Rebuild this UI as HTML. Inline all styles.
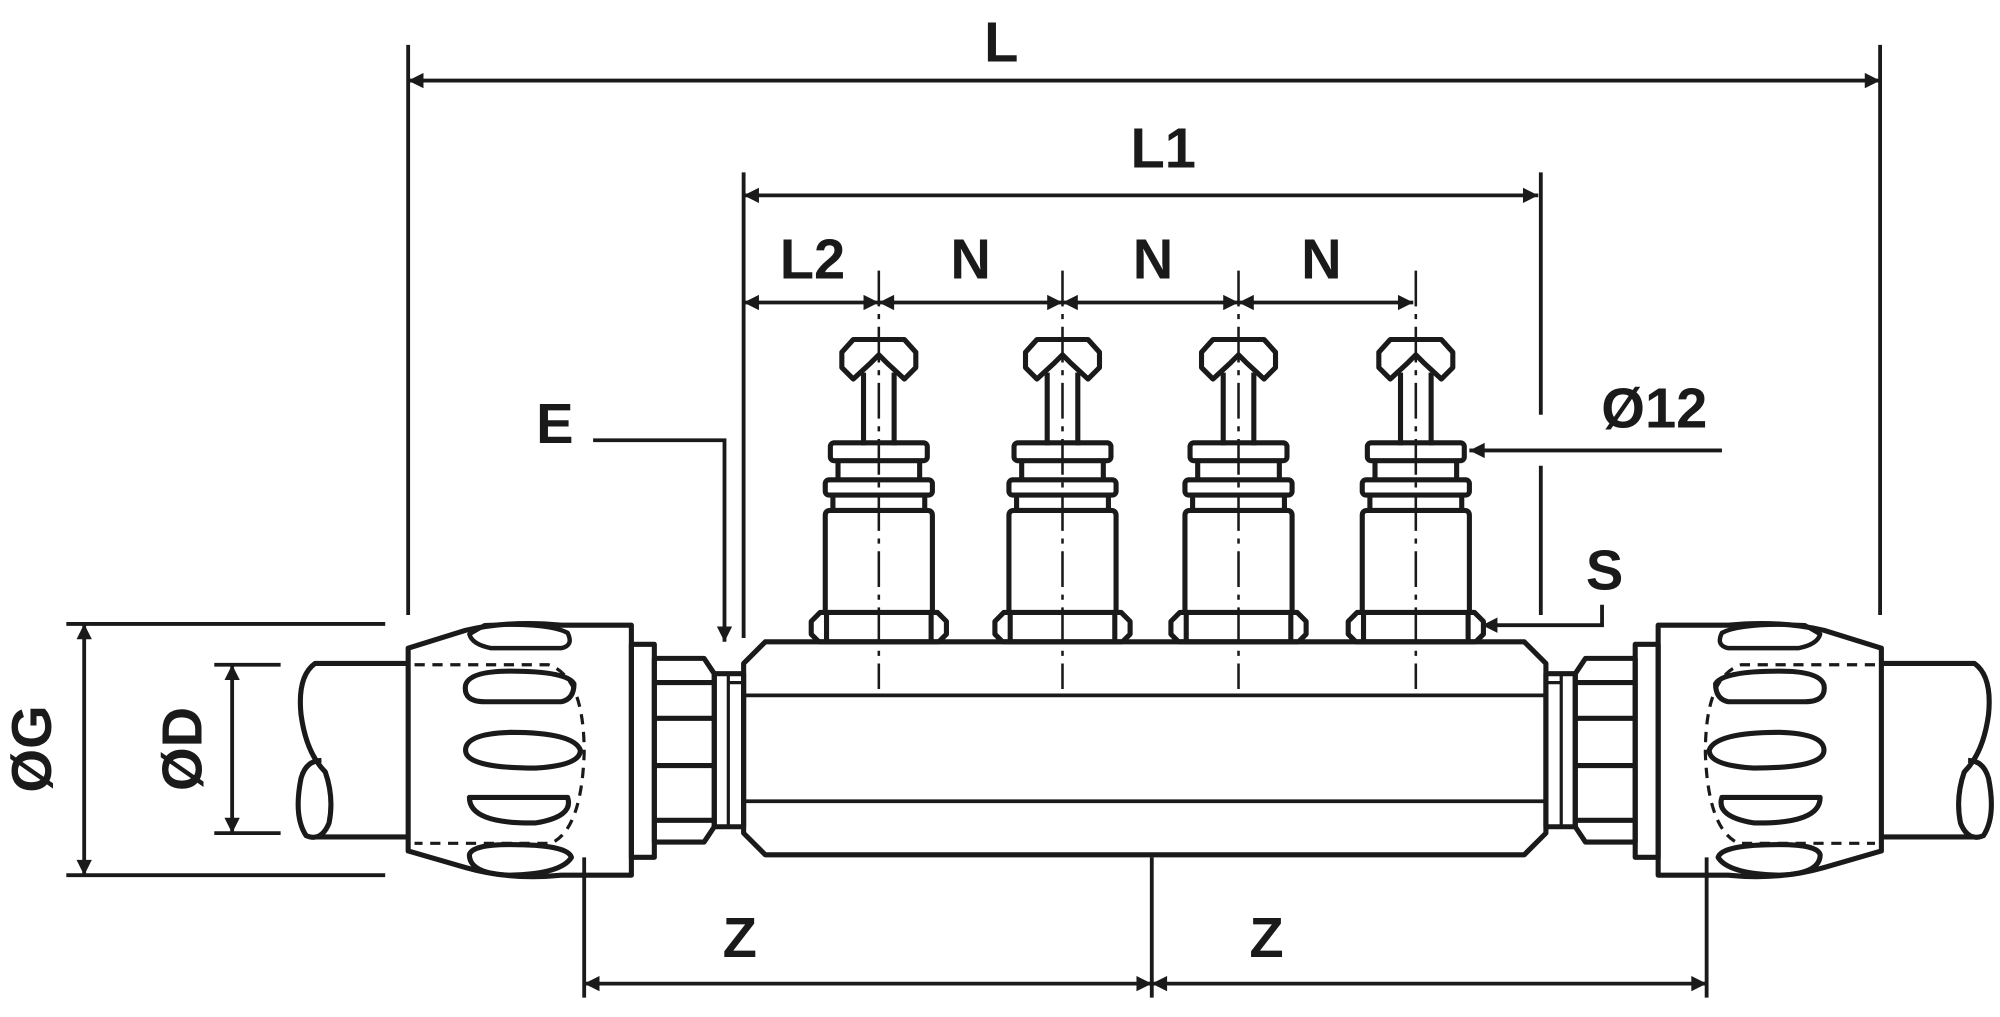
<!DOCTYPE html>
<html><head><meta charset="utf-8"><style>
html,body{margin:0;padding:0;background:#fff;}
svg{display:block}
text{font-family:"Liberation Sans",sans-serif;font-weight:bold;fill:#1a1a1a}
</style></head><body>
<svg width="2000" height="1017" viewBox="0 0 1568 797" xmlns="http://www.w3.org/2000/svg">
<defs>
<marker id="a" viewBox="0 0 10 10" refX="10" refY="5" markerWidth="9" markerHeight="5" orient="auto-start-reverse" markerUnits="userSpaceOnUse">
<path d="M0,0L10,5L0,10z" fill="#1a1a1a"/></marker>
<marker id="b" viewBox="0 0 10 10" refX="10" refY="5" markerWidth="26" markerHeight="12" orient="auto-start-reverse" markerUnits="userSpaceOnUse">
<path d="M0,0L10,5L0,10z" fill="#1a1a1a"/></marker>
<g id="out" fill="none" stroke="#1a1a1a" stroke-width="4" stroke-linejoin="round">
<path d="M-20,266H20L29,276V288L20,297L6,284L0,278L-6,284L-20,297L-29,288V276Z"/>
<path d="M-12,292V349M12,292V349"/>
<rect x="-38" y="347" width="76" height="14" rx="3"/>
<path d="M-32,361V376M32,361V376"/>
<rect x="-42" y="376" width="84" height="12" rx="3"/>
<path d="M-36,388V400M36,388V400"/>
<path d="M-42,480V404Q-42,400 -38,400H38Q42,400 42,404V480"/>
<path d="M-46,480H46L53,487V497L47,503H-47L-53,497V487Z"/>
<path d="M-41,480V503M41,480V503"/>
</g>
<g id="side" fill="none" stroke="#1a1a1a" stroke-width="4" stroke-linejoin="round">
<path d="M320,520H247Q233,530 236,560Q240,590 255,605Q262,625 258,645Q252,660 240,655Q230,640 236,610Q240,596 252,596" />
<path d="M247,656H320"/>
<path d="M320,508L365,494Q400,486 440,490H495V686H440Q400,690 365,680L320,667Z"/>
<path d="M368,497Q370,505 385,508H440Q450,506 445,496Q430,488 380,490Z" stroke-width="3.5"/>
<path d="M365,537Q368,526 400,526Q445,526 450,536Q450,548 440,550H380Q363,550 365,537Z"/>
<path d="M365,588Q365,575 400,574Q450,574 455,588Q455,600 420,602Q365,602 365,588Z"/>
<path d="M368,625H445Q450,640 420,645Q368,646 368,625Z"/>
<path d="M368,670Q370,662 400,662Q445,662 448,672Q440,685 400,686Q368,685 368,670Z"/>
<path d="M325,521H430Q458,530 458,590Q456,650 432,661H325" stroke-width="2.5" stroke-dasharray="8,6"/>
<rect x="495" y="505" width="18" height="167"/>
<path d="M513,516H552L560,528V648L552,660H513Z"/>
<path d="M513,535H560M513,563H560M513,600H560M513,643H560"/>
<rect x="560" y="528" width="23" height="120"/>
<path d="M571,528V648M571,535H583" stroke-width="2.5"/>
</g>
</defs>
<g stroke="#1a1a1a" stroke-width="3" fill="none">
<!-- extension lines -->
<path d="M320,35V482M1474,35V482M583,135V500M1208,135V325M1208,365V482"/>
<path d="M52,489H302M52,686H302M168,521H220M168,653H220"/>
<path d="M458,672V782M903,672V782M1338,672V782"/>
<!-- dims -->
<path d="M320,63H1474" marker-start="url(#b)" marker-end="url(#b)"/>
<path d="M583,153H1206" marker-start="url(#b)" marker-end="url(#b)"/>
<path d="M583,237H689" marker-start="url(#b)" marker-end="url(#b)"/>
<path d="M689,237H833" marker-start="url(#b)" marker-end="url(#b)"/>
<path d="M833,237H971" marker-start="url(#b)" marker-end="url(#b)"/>
<path d="M971,237H1108" marker-start="url(#b)" marker-end="url(#b)"/>
<path d="M458,771H903" marker-start="url(#b)" marker-end="url(#b)"/>
<path d="M903,771H1338" marker-start="url(#b)" marker-end="url(#b)"/>
<path d="M66,489V686" marker-start="url(#b)" marker-end="url(#b)"/>
<path d="M182,521V653" marker-start="url(#b)" marker-end="url(#b)"/>
<path d="M1350,353H1152" marker-end="url(#b)"/>
<path d="M1256,474V490H1162" marker-end="url(#b)"/>
<path d="M465,345H568V503" marker-end="url(#b)"/>
<!-- center lines -->
<path d="M689,212V540M833,212V540M971,212V540M1110,212V540" stroke-width="2" stroke-dasharray="28,6,4,6"/>
</g>
<use href="#out" x="689"/><use href="#out" x="833"/><use href="#out" x="971"/><use href="#out" x="1110"/>
<g fill="none" stroke="#1a1a1a" stroke-width="4" stroke-linejoin="round">
<path d="M600,503H1195L1212,520V653L1195,670H600L583,653V520Z"/>
<path d="M583,545H1212M583,628H1212" stroke-width="3"/>
</g>
<use href="#side"/>
<use href="#side" transform="translate(1795,0) scale(-1,1)"/>
<g font-size="44">
<text x="785" y="48" text-anchor="middle">L</text>
<text x="912" y="131" text-anchor="middle">L1</text>
<text x="637" y="218" text-anchor="middle">L2</text>
<text x="761" y="218" text-anchor="middle">N</text>
<text x="904" y="218" text-anchor="middle">N</text>
<text x="1036" y="218" text-anchor="middle">N</text>
<text x="435" y="347" text-anchor="middle">E</text>
<text x="1297" y="335" text-anchor="middle">Ø12</text>
<text x="1258" y="462" text-anchor="middle">S</text>
<text x="580" y="750" text-anchor="middle">Z</text>
<text x="993" y="750" text-anchor="middle">Z</text>
<text transform="translate(40,587) rotate(-90)" text-anchor="middle">ØG</text>
<text transform="translate(158,587) rotate(-90)" text-anchor="middle">ØD</text>
</g>
</svg>
</body></html>
